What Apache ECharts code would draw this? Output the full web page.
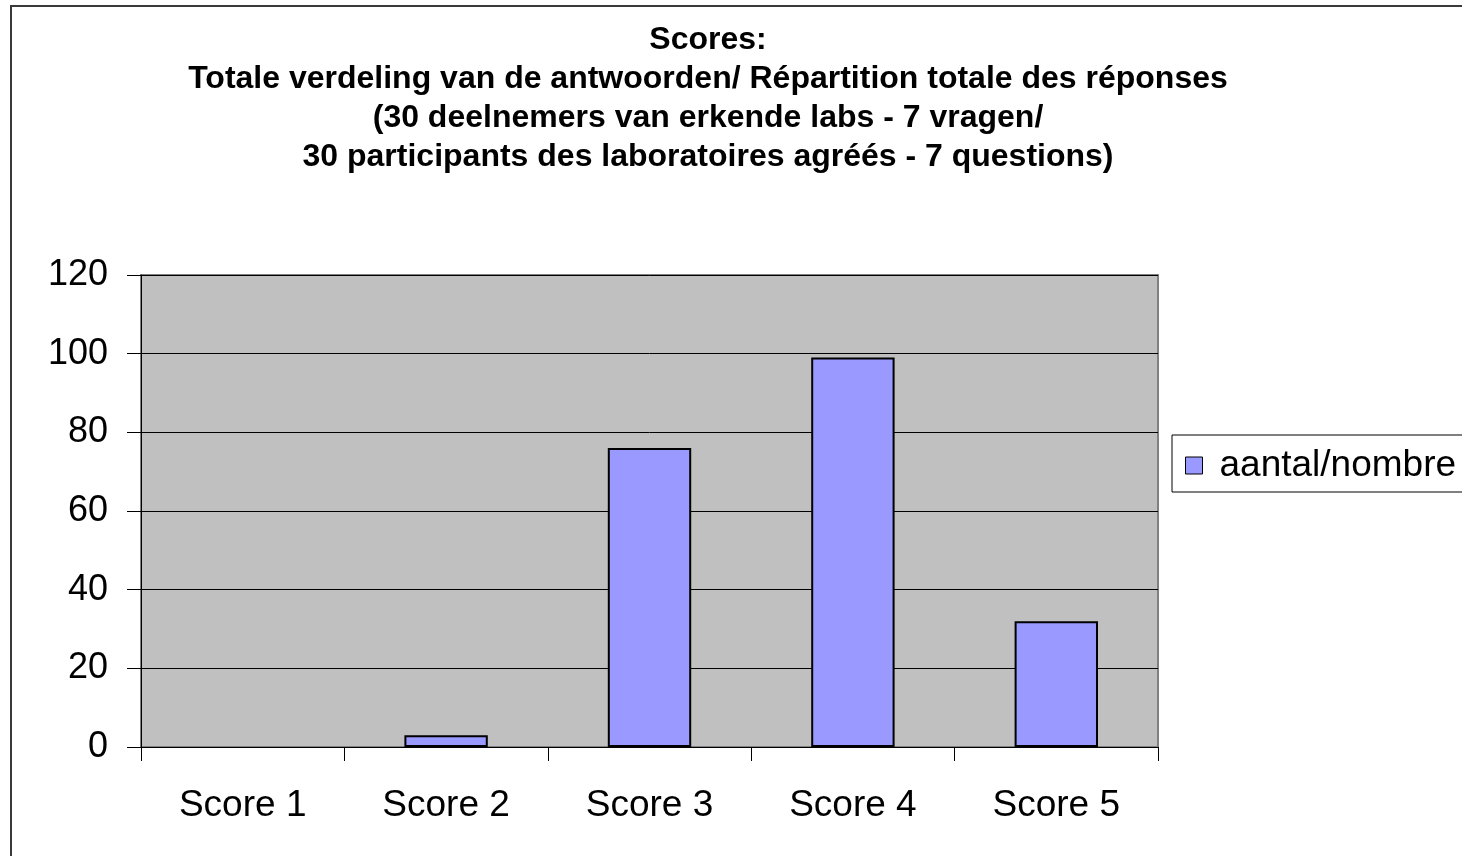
<!DOCTYPE html>
<html>
<head>
<meta charset="utf-8">
<script src="https://cdn.jsdelivr.net/npm/echarts@6/dist/echarts.min.js"></script>
<style>
html,body{margin:0;padding:0;background:#fff;}
#chart{width:1462px;height:856px;}
</style>
</head>
<body>
<div id="chart"></div>
<script>
const titleLines = [
  'Scores:',
  'Totale verdeling van de antwoorden/ Répartition totale des réponses',
  '(30 deelnemers van erkende labs - 7 vragen/',
  '30 participants des laboratoires agréés - 7 questions)'
];
const categories = ['Score 1', 'Score 2', 'Score 3', 'Score 4', 'Score 5'];
const seriesName = 'aantal/nombre';
const values = [0, 3, 76, 99, 32];
const yTicks = { min: 0, max: 120, interval: 20 };

const FONT = '"Liberation Sans", Arial, sans-serif';
const chart = echarts.init(document.getElementById('chart'), null, { renderer: 'canvas' });
chart.setOption({
  animation: false,
  backgroundColor: '#ffffff',
  textStyle: { fontFamily: FONT },
  title: {
    text: titleLines.join('\n'),
    left: 703,
    top: 16,
    textAlign: 'center',
    textStyle: {
      fontFamily: FONT, fontSize: 32, fontWeight: 'bold', color: '#000',
      lineHeight: 39
    }
  },
  graphic: [
    { type: 'rect', shape: { x: 11, y: 6, width: 1500, height: 900 }, style: { fill: 'none', stroke: '#3a3a3a', lineWidth: 2 }, z: -1 },
    { type: 'rect', shape: { x: 1172, y: 435, width: 320, height: 57 }, style: { fill: '#fff', stroke: '#000', lineWidth: 1 }, z: 0 }
  ],
  legend: {
    left: 1185,
    top: 447,
    padding: 0,
    itemWidth: 17,
    itemHeight: 17,
    itemGap: 10,
    icon: 'rect',
    z: 5,
    textStyle: { fontFamily: FONT, fontSize: 37, color: '#000', padding: [6, 0, 0, 12] },
    itemStyle: { borderColor: '#000', borderWidth: 1 }
  },
  grid: {
    left: 141, top: 275, right: 304, bottom: 109,
    show: true, backgroundColor: '#c0c0c0', borderColor: '#808080', borderWidth: 2,
    containLabel: false
  },
  xAxis: {
    type: 'category',
    data: categories,
    boundaryGap: true,
    axisLine: { show: true, lineStyle: { color: '#000', width: 1 } },
    axisTick: { show: true, length: 14, inside: false, lineStyle: { color: '#000' } },
    axisLabel: { fontFamily: FONT, fontSize: 37, color: '#000', margin: 40 },
    splitLine: { show: false }
  },
  yAxis: {
    type: 'value',
    min: yTicks.min, max: yTicks.max, interval: yTicks.interval,
    axisLine: { show: true, lineStyle: { color: '#000', width: 1 } },
    axisTick: { show: true, length: 14, lineStyle: { color: '#000' } },
    axisLabel: { fontFamily: FONT, fontSize: 36, color: '#000', margin: 33 },
    splitLine: { show: true, lineStyle: { color: '#000', width: 1 } }
  },
  series: [{
    name: seriesName,
    type: 'bar',
    data: values.map(v => v === 0 ? { value: v, itemStyle: { borderWidth: 0, opacity: 0 } } : v),
    barCategoryGap: '59%',
    itemStyle: { color: '#9999ff', borderColor: '#000', borderWidth: 2 }
  }]
});
</script>
</body>
</html>
